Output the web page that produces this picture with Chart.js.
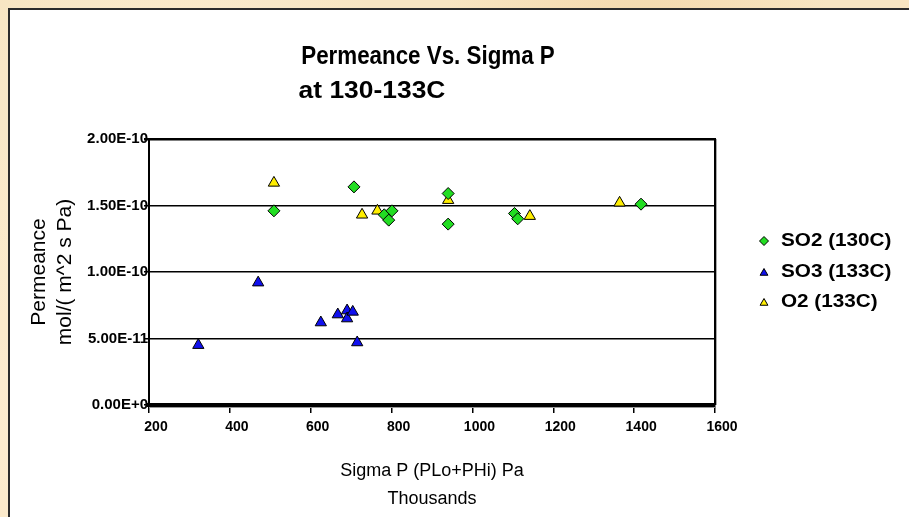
<!DOCTYPE html>
<html>
<head>
<meta charset="utf-8">
<script src="https://cdn.jsdelivr.net/npm/chart.js@4.4.1/dist/chart.umd.min.js"></script>
<style>
  html, body { margin: 0; padding: 0; width: 909px; height: 517px; overflow: hidden; }
  body {
    background:
      radial-gradient(circle at 20% 30%, rgba(255,245,225,0.7), rgba(255,245,225,0) 30%),
      radial-gradient(circle at 70% 10%, rgba(240,205,150,0.5), rgba(240,205,150,0) 25%),
      radial-gradient(circle at 5% 80%, rgba(255,240,215,0.7), rgba(255,240,215,0) 30%),
      #f8e5c2;
  }
  #panel { position: absolute; left: 8px; top: 8px; right: 0; bottom: 0; background: #fff;
           border-left: 2px solid #2b2b2b; border-top: 2px solid #2b2b2b; }
  #wrap { position: absolute; left: 0; top: 0; width: 909px; height: 517px; }
</style>
</head>
<body>
<div id="panel"></div>
<div id="wrap"><canvas id="chart"></canvas></div>
<script>
// values (x in thousands of Pa)
const so2X = [509, 707, 782, 793, 801, 940, 940, 1104, 1112, 1417];
const so2Y = [1.46e-10, 1.64e-10, 1.43e-10, 1.39e-10, 1.46e-10, 1.59e-10, 1.36e-10, 1.44e-10, 1.40e-10, 1.51e-10];
const so3X = [322, 470, 625, 667, 690, 690, 704, 715];
const so3Y = [4.5e-11, 9.2e-11, 6.2e-11, 6.8e-11, 7.1e-11, 6.5e-11, 7.0e-11, 4.7e-11];
const o2X = [509, 727, 765, 940, 1142, 1364];
const o2Y = [1.67e-10, 1.43e-10, 1.46e-10, 1.54e-10, 1.42e-10, 1.52e-10];

const xTicks = [200, 400, 600, 800, 1000, 1200, 1400, 1600];
const yTicks = [0, 5e-11, 1e-10, 1.5e-10, 2e-10];

const seriesNames = ["SO2 (130C)", "SO3 (133C)", "O2 (133C)"];
const seriesColors = ["#22dd22", "#1010ee", "#ffee00"];
const titleText = "Permeance Vs. Sigma P";
const subTitleText = "at 130-133C";

const FONT = "Arial, 'Liberation Sans', sans-serif";

function toPoints(xs, ys) {
  return xs.map((x, i) => ({ x: x, y: ys[i] }));
}

function fmtSci(v) {
  if (v === 0) return "0.00E+0";
  return v.toExponential(2).toUpperCase();
}

// draw text, optionally stretched/squeezed horizontally
function drawText(ctx, text, x, y, font, align, sx) {
  ctx.save();
  ctx.font = font;
  ctx.fillStyle = "#000";
  ctx.textBaseline = "middle";
  ctx.textAlign = align;
  ctx.translate(x, y);
  ctx.scale(sx || 1, 1);
  ctx.fillText(text, 0, 0);
  ctx.restore();
}

const decor = {
  id: "decor",
  beforeDatasetsDraw(chart) {
    const { ctx, chartArea: a } = chart;
    ctx.save();
    // right frame edge with light shadow
    ctx.strokeStyle = "#000";
    ctx.lineWidth = 2;
    ctx.beginPath();
    ctx.moveTo(a.right, a.top - 1);
    ctx.lineTo(a.right, a.bottom);
    ctx.stroke();
    ctx.strokeStyle = "#aaa";
    ctx.lineWidth = 1;
    ctx.beginPath();
    ctx.moveTo(a.right + 1.5, a.top);
    ctx.lineTo(a.right + 1.5, a.bottom);
    ctx.stroke();
    // shadow under the x axis
    ctx.strokeStyle = "#999";
    ctx.beginPath();
    ctx.moveTo(a.left, a.bottom + 2.5);
    ctx.lineTo(a.right, a.bottom + 2.5);
    ctx.stroke();
    ctx.restore();
  },
  afterDraw(chart) {
    const { ctx } = chart;
    drawText(ctx, titleText, 428, 57, "bold 26px " + FONT, "center", 0.86);
    drawText(ctx, subTitleText, 372, 91, "bold 24px " + FONT, "center", 1.1);

    // legend on the right
    const rows = [241, 272, 302];
    chart.data.datasets.forEach((ds, i) => {
      ctx.save();
      ctx.fillStyle = seriesColors[i];
      ctx.strokeStyle = "#000";
      ctx.lineWidth = 1;
      Chart.helpers.drawPoint(ctx, {
        pointStyle: ds.pointStyle, radius: 4.5, borderWidth: 1, rotation: 0
      }, 764, rows[i] + (ds.pointStyle === "triangle" ? 1 : 0));
      ctx.restore();
      drawText(ctx, seriesNames[i], 781, rows[i], "bold 18px " + FONT, "left", 1.15);
    });
  }
};

const ctx = document.getElementById("chart").getContext("2d");
const chart = new Chart(ctx, {
  type: "scatter",
  data: {
    datasets: [
      { label: seriesNames[0], data: toPoints(so2X, so2Y), pointStyle: "rectRot",
        backgroundColor: seriesColors[0], borderColor: "#000", borderWidth: 1, pointRadius: 6, pointHoverRadius: 6 },
      { label: seriesNames[1], data: toPoints(so3X, so3Y), pointStyle: "triangle",
        backgroundColor: seriesColors[1], borderColor: "#000", borderWidth: 1, pointRadius: 6.5, pointHoverRadius: 6.5 },
      { label: seriesNames[2], data: toPoints(o2X, o2Y), pointStyle: "triangle",
        backgroundColor: seriesColors[2], borderColor: "#000", borderWidth: 1, pointRadius: 6.5, pointHoverRadius: 6.5 }
    ]
  },
  options: {
    responsive: true,
    maintainAspectRatio: false,
    animation: false,
    layout: { padding: { top: 139, left: 0, right: 194, bottom: 0 } },
    plugins: { legend: { display: false }, tooltip: { enabled: false }, title: { display: false } },
    scales: {
      x: {
        type: "linear",
        min: 200,
        max: 1600,
        afterBuildTicks: (s) => { s.ticks = xTicks.map((v) => ({ value: v })); },
        afterFit: (s) => { s.height = 112; },
        border: { display: true, color: "#000", width: 4 },
        grid: { drawOnChartArea: false, drawTicks: true, tickLength: 8, tickColor: "#000", lineWidth: 1.5 },
        ticks: {
          color: "#000",
          font: { family: FONT, size: 14, weight: "bold" },
          padding: 6,
          labelOffset: 7,
          maxRotation: 0,
          callback: (v) => String(v)
        },
        title: {
          display: true,
          text: ["Sigma P (PLo+PHi) Pa", "Thousands"],
          color: "#000",
          font: { family: FONT, size: 18, lineHeight: 1.55 },
          padding: { top: 0, bottom: 4 }
        }
      },
      y: {
        type: "linear",
        min: 0,
        max: 2e-10,
        afterBuildTicks: (s) => { s.ticks = yTicks.map((v) => ({ value: v })); },
        afterFit: (s) => { s.width = 149; },
        border: { display: true, color: "#000", width: 2 },
        grid: {
          color: (c) => (c.tick && c.tick.value === 0 ? "rgba(0,0,0,0)" : "#000"),
          lineWidth: (c) => (c.tick && c.tick.value === 2e-10 ? 2.5 : 1.5),
          drawTicks: true,
          tickLength: 5,
          tickColor: "#000"
        },
        ticks: {
          color: "#000",
          font: { family: FONT, size: 15, weight: "bold" },
          padding: -4,
          callback: (v) => fmtSci(v)
        },
        title: {
          display: true,
          text: ["Permeance", "mol/( m^2 s Pa)"],
          color: "#000",
          font: { family: FONT, size: 21, lineHeight: 1.2 },
          padding: { top: 27, bottom: 0 }
        }
      }
    }
  },
  plugins: [decor]
});
</script>
</body>
</html>
